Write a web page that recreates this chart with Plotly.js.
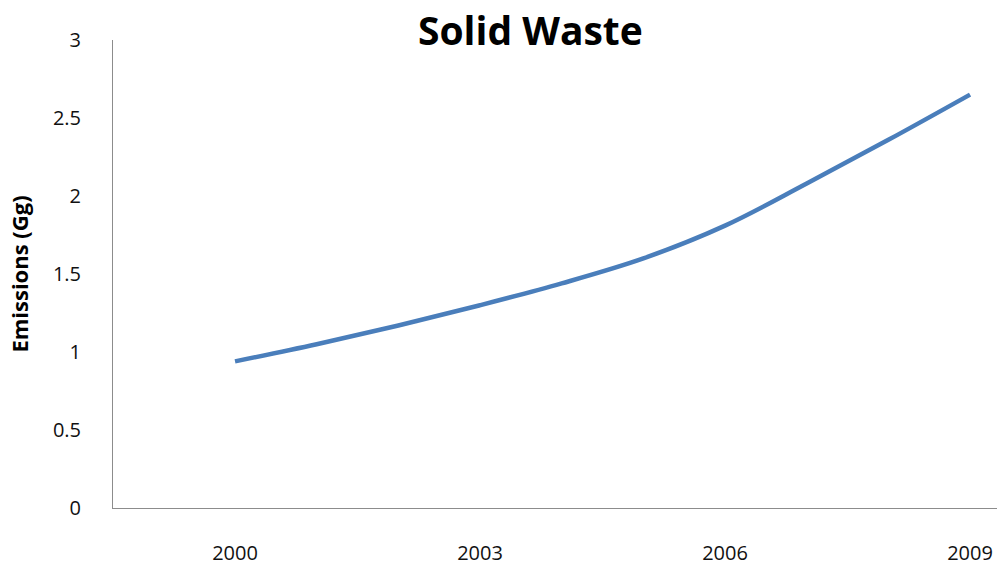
<!DOCTYPE html>
<html>
<head>
<meta charset="utf-8">
<script src="https://cdn.plot.ly/plotly-3.0.1.min.js"></script>
<style>html,body{margin:0;padding:0;background:#fff;}#chart{width:997px;height:565px;}</style>
</head>
<body>
<div id="chart"></div>
<script>
const years = [2000, 2001, 2002, 2003, 2004, 2005, 2006, 2007, 2008, 2009];
const emissions = [0.94, 1.05, 1.17, 1.30, 1.44, 1.60, 1.81, 2.08, 2.36, 2.65];
const xTicks = [2000, 2003, 2006, 2009];
const yTicks = [0, 0.5, 1, 1.5, 2, 2.5, 3];
const yTickText = ['0', '0.5', '1', '1.5', '2', '2.5', '3'];

const trace = {
  x: years,
  y: emissions,
  type: 'scatter',
  mode: 'lines',
  line: {color: '#4a7ebb', width: 4.5, shape: 'spline', smoothing: 1},
  hoverinfo: 'x+y'
};

const layout = {
  width: 997,
  height: 565,
  margin: {l: 113, r: 0, t: 40, b: 57},
  paper_bgcolor: '#ffffff',
  plot_bgcolor: '#ffffff',
  showlegend: false,
  font: {family: 'Open Sans, sans-serif', color: '#000000'},
  title: {
    text: '<b>Solid Waste</b>',
    font: {family: 'Open Sans, sans-serif', size: 39, color: '#000000'},
    x: 0.532, xanchor: 'center', y: 0.945, yanchor: 'middle'
  },
  xaxis: {
    range: [1998.506, 2009.33],
    tickvals: xTicks,
    ticktext: xTicks.map(String),
    showgrid: false,
    zeroline: false,
    showline: true,
    linecolor: '#8c8c8c',
    linewidth: 1,
    ticks: 'outside',
    ticklen: 27,
    tickcolor: 'rgba(0,0,0,0)',
    tickfont: {family: 'Open Sans, sans-serif', size: 20, color: '#111111'},
    fixedrange: true
  },
  yaxis: {
    range: [0, 3],
    tickvals: yTicks,
    ticktext: yTickText,
    showgrid: false,
    zeroline: false,
    showline: true,
    linecolor: '#8c8c8c',
    linewidth: 1,
    ticks: 'outside',
    ticklen: 27,
    tickcolor: 'rgba(0,0,0,0)',
    tickfont: {family: 'Open Sans, sans-serif', size: 20, color: '#111111'},
    title: {
      text: '<b>Emissions (Gg)</b>',
      font: {family: 'Open Sans, sans-serif', size: 22, color: '#000000'},
      standoff: 18
    },
    fixedrange: true
  }
};

Plotly.newPlot('chart', [trace], layout, {displayModeBar: false, staticPlot: true});
</script>
</body>
</html>
